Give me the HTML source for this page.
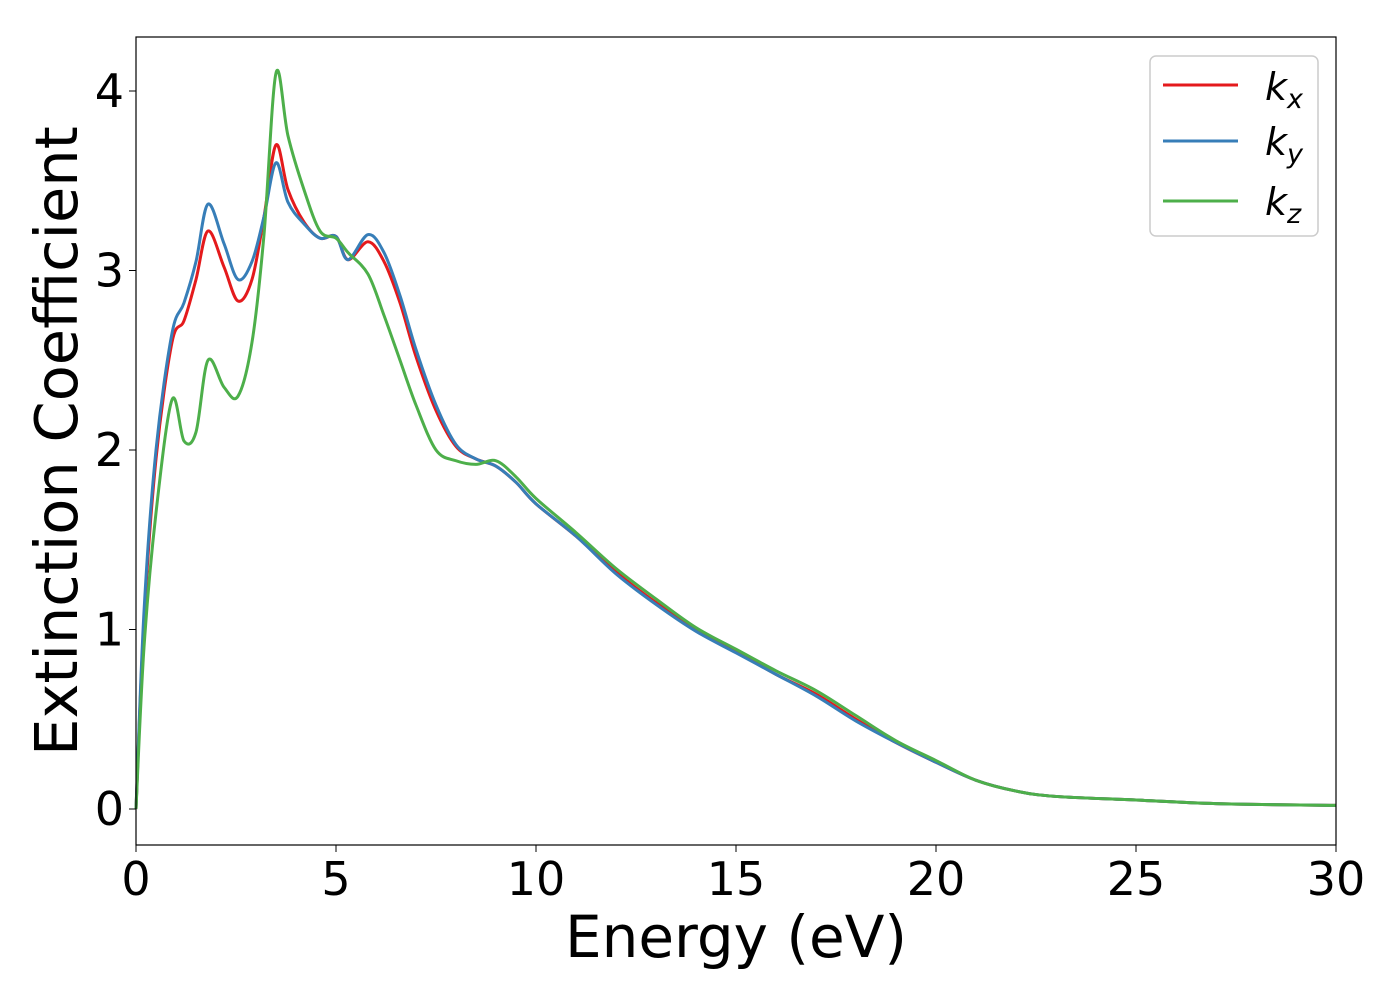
<!DOCTYPE html>
<html><head><meta charset="utf-8"><style>
body{margin:0;background:#fff}
text{font-family:"DejaVu Sans","Liberation Sans",sans-serif;fill:#000}
</style></head><body>
<svg id="chart" width="1400" height="1000" xmlns="http://www.w3.org/2000/svg">
<rect x="0" y="0" width="1400" height="1000" fill="#fff"/>
<g id="series"></g>
<rect x="136" y="37" width="1200" height="808" fill="none" stroke="#000" stroke-width="1.2"/>
<g id="axes"></g>
<text x="736" y="957" font-size="58" text-anchor="middle">Energy (eV)</text>
<text transform="translate(77,441) rotate(-90)" font-size="59" text-anchor="middle">Extinction Coefficient</text>
<g>
<rect x="1150" y="56" width="168" height="180" rx="6" fill="#fff" stroke="#ccc" stroke-width="1.5"/>
<line x1="1163" y1="85" x2="1238" y2="85" stroke="#e41a1c" stroke-width="3"/>
<text x="1265" y="100" font-size="38" font-style="italic">k<tspan font-size="27" dy="8">x</tspan></text>
<line x1="1163" y1="141" x2="1238" y2="141" stroke="#377eb8" stroke-width="3"/>
<text x="1265" y="155" font-size="38" font-style="italic">k<tspan font-size="27" dy="8">y</tspan></text>
<line x1="1163" y1="201" x2="1238" y2="201" stroke="#4daf4a" stroke-width="3"/>
<text x="1265" y="215" font-size="38" font-style="italic">k<tspan font-size="27" dy="8">z</tspan></text>
</g>
</svg>
<script>
const energy = [0,0.2,0.5,0.9,1.2,1.5,1.8,2.2,2.55,2.9,3.2,3.5,3.8,4.2,4.6,5.0,5.3,5.8,6.2,6.6,7.0,7.5,8.0,8.5,9.0,9.5,10,11,12,13,14,15,16,17,18,19,20,21,22,23,25,27,30];
const kx = [0,1.05,1.95,2.6,2.72,2.95,3.22,3.02,2.83,2.95,3.3,3.7,3.45,3.27,3.18,3.19,3.06,3.16,3.05,2.82,2.52,2.22,2.02,1.95,1.91,1.82,1.7,1.52,1.32,1.15,1.0,0.88,0.75,0.64,0.5,0.37,0.26,0.16,0.1,0.07,0.05,0.03,0.02];
const ky = [0,1.1,2.0,2.65,2.82,3.05,3.37,3.15,2.95,3.05,3.3,3.6,3.38,3.26,3.18,3.19,3.06,3.2,3.1,2.86,2.56,2.25,2.03,1.95,1.91,1.82,1.7,1.52,1.31,1.14,0.99,0.87,0.75,0.63,0.49,0.37,0.26,0.16,0.1,0.07,0.05,0.03,0.02];
const kz = [0,0.9,1.65,2.28,2.05,2.1,2.5,2.35,2.3,2.6,3.2,4.1,3.75,3.45,3.22,3.18,3.1,2.98,2.75,2.5,2.25,2.0,1.94,1.92,1.94,1.85,1.73,1.54,1.34,1.17,1.01,0.89,0.77,0.66,0.52,0.38,0.27,0.16,0.1,0.07,0.05,0.03,0.02];
const xTicks = [0,5,10,15,20,25,30];
const yTicks = [0,1,2,3,4];
const seriesNames = ['kx','ky','kz'];
const seriesColors = ['#e41a1c','#377eb8','#4daf4a'];

const X = e => 136 + 40*e;
const Y = k => 809 - 179.5*k;
const NS = 'http://www.w3.org/2000/svg';

function pathFor(ys){
  const p = energy.map((e,i)=>[X(e),Y(ys[i])]);
  let d = 'M'+p[0][0]+','+p[0][1];
  for(let i=0;i<p.length-1;i++){
    const p0=p[Math.max(i-1,0)],p1=p[i],p2=p[i+1],p3=p[Math.min(i+2,p.length-1)];
    const c1=[p1[0]+(p2[0]-p0[0])/6,p1[1]+(p2[1]-p0[1])/6];
    const c2=[p2[0]-(p3[0]-p1[0])/6,p2[1]-(p3[1]-p1[1])/6];
    d+=' C'+c1[0]+','+c1[1]+' '+c2[0]+','+c2[1]+' '+p2[0]+','+p2[1];
  }
  return d;
}
const g = document.getElementById('series');
[kx,ky,kz].forEach((ys,i)=>{
  const el=document.createElementNS(NS,'path');
  el.setAttribute('d',pathFor(ys));
  el.setAttribute('fill','none');
  el.setAttribute('stroke',seriesColors[i]);
  el.setAttribute('stroke-width','3');
  
  
  g.appendChild(el);
});
const ax = document.getElementById('axes');
xTicks.forEach(t=>{
  const l=document.createElementNS(NS,'line');
  l.setAttribute('x1',X(t));l.setAttribute('x2',X(t));l.setAttribute('y1',845);l.setAttribute('y2',852);
  l.setAttribute('stroke','#000');
  
  
  ax.appendChild(l);
  const tx=document.createElementNS(NS,'text');
  tx.setAttribute('x',X(t));tx.setAttribute('y',895);tx.setAttribute('font-size','46');tx.setAttribute('text-anchor','middle');
  tx.textContent=t;
  
  
  ax.appendChild(tx);
});
yTicks.forEach(t=>{
  const l=document.createElementNS(NS,'line');
  l.setAttribute('x1',129);l.setAttribute('x2',136);l.setAttribute('y1',Y(t));l.setAttribute('y2',Y(t));
  l.setAttribute('stroke','#000');
  
  
  ax.appendChild(l);
  const tx=document.createElementNS(NS,'text');
  tx.setAttribute('x',124);tx.setAttribute('y',Y(t)+16);tx.setAttribute('font-size','46');tx.setAttribute('text-anchor','end');
  tx.textContent=t;
  
  
  ax.appendChild(tx);
});
</script>
</body></html>
